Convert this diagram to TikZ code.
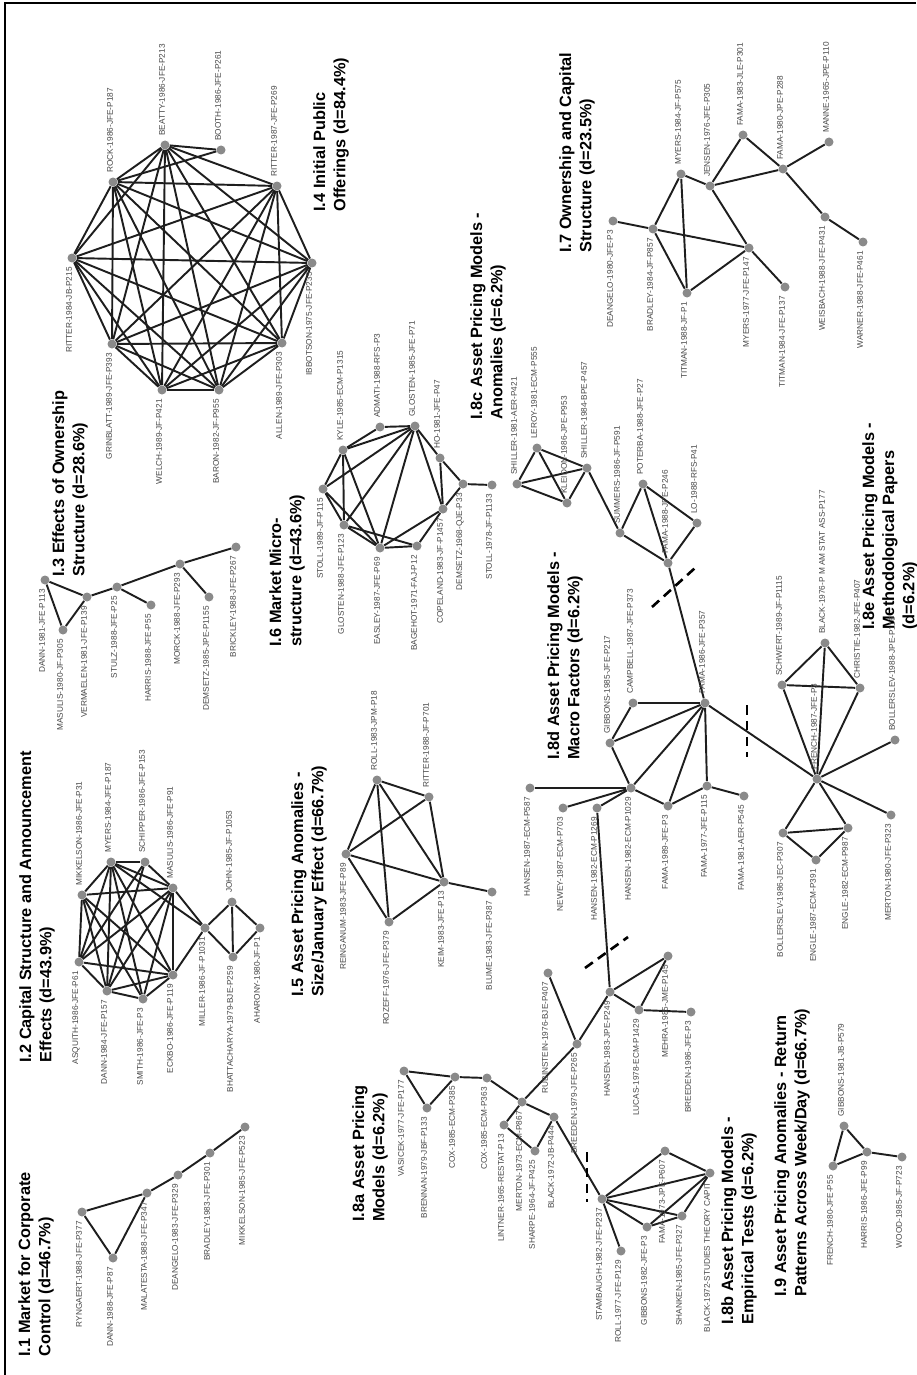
\documentclass[tikz,border=0pt]{standalone}
\usepackage{fontspec}
\setmainfont{Liberation Sans}
\usetikzlibrary{positioning}
\definecolor{dotgrey}{RGB}{138,138,138}
\definecolor{inkgrey}{RGB}{30,30,30}
\definecolor{textgrey}{RGB}{70,70,70}
\pgfdeclarelayer{bg}
\pgfsetlayers{bg,main}
% a paper: grey dot plus its rotated label, above or below the dot
\newcommand{\pubup}[4]{%
  \node[pdot] (#1) at (#2,#3) {};
  \node[plabel,anchor=west] (#1-lbl) at ([xshift=-0.06cm,yshift=0.18cm]#1.center) {#4};}
\newcommand{\pubdn}[4]{%
  \node[pdot] (#1) at (#2,#3) {};
  \node[plabel,anchor=east] (#1-lbl) at ([xshift=-0.06cm,yshift=-0.18cm]#1.center) {#4};}

\begin{document}
\begin{tikzpicture}[x=0.02cm,y=-0.02cm,
  pdot/.style={circle,fill=dotgrey,inner sep=0pt,minimum size=0.18cm},
  plabel/.style={rotate=90,inner sep=0pt,text=textgrey,font=\fontsize{4.7}{5}\selectfont},
  ttl/.style={rotate=90,anchor=west,align=left,inner sep=0pt,font=\bfseries\fontsize{9.3}{11.5}\selectfont},
  edge/.style={inkgrey,line width=1.1pt},
  cut/.style={black,line width=1.5pt,dash pattern=on 5.5pt off 3.5pt}]
\useasboundingbox (0,0) rectangle (916,1375);
% page frame
\draw[black,line width=1.2pt] (5,1375) -- (5,3) -- (916,3);

% cluster titles
\node[ttl] (tI1) at (36,1357) {I.1 Market for Corporate\\Control (d=46.7\%)};
\node[ttl] (tI2) at (37,1063) {I.2 Capital Structure and Announcement\\Effects (d=43.9\%)};
\node[ttl] (tI3) at (70,577) {I.3 Effects of Ownership\\Structure (d=28.6\%)};
\node[ttl] (tI4) at (331,212) {I.4 Initial Public\\Offerings (d=84.4\%)};
\node[ttl] (tI5) at (309,997) {I.5 Asset Pricing Anomalies -\\Size/January Effect (d=66.7\%)};
\node[ttl] (tI6) at (287,647) {I.6 Market Micro-\\structure (d=43.6\%)};
\node[ttl] (tI7) at (577,253) {I.7 Ownership and Capital\\Structure (d=23.5\%)};
\node[ttl] (tI8a) at (370,1222) {I.8a Asset Pricing\\Models (d=6.2\%)};
\node[ttl] (tI8b) at (739,1325) {I.8b Asset Pricing Models -\\Empirical Tests (d=6.2\%)};
\node[ttl] (tI8c) at (488,420) {I.8c Asset Pricing Models -\\Anomalies (d=6.2\%)};
\node[ttl] (tI8d) at (565,760) {I.8d Asset Pricing Models -\\Macro Factors (d=6.2\%)};
\node[ttl] (tI8e) at (890,630) {I.8e Asset Pricing Models -\\Methodological Papers\\(d=6.2\%)};
\node[ttl] (tI9) at (792,1297) {I.9 Asset Pricing Anomalies - Return\\Patterns Across Week/Day (d=66.7\%)};

% I.1 market for corporate control
\pubdn{ryngaert}{82}{1212}{RYNGAERT-1988-JFE-P377}
\pubdn{dannC}{113}{1258}{DANN-1988-JFE-P87}
\pubdn{malatesta}{147}{1193}{MALATESTA-1988-JFE-P347}
\pubdn{deangeloA}{178}{1175}{DEANGELO-1983-JFE-P329}
\pubdn{bradleyA}{210}{1153}{BRADLEY-1983-JFE-P301}
\pubdn{mikkelsonB}{245}{1127}{MIKKELSON-1985-JFE-P523}

% I.2 capital structure
\pubup{mikkelsonA}{82}{895}{MIKKELSON-1986-JFE-P31}
\pubup{myersC}{111}{862}{MYERS-1984-JFE-P187}
\pubup{schipper}{145}{862}{SCHIPPER-1986-JFE-P153}
\pubup{masulisB}{173}{888}{MASULIS-1986-JFE-P91}
\pubup{johnK}{232}{902}{JOHN-1985-JF-P1053}
\pubdn{asquith}{79}{962}{ASQUITH-1986-JFE-P61}
\pubdn{dannB}{107}{991}{DANN-1984-JFE-P157}
\pubdn{smith}{143}{999}{SMITH-1986-JFE-P3}
\pubdn{eckbo}{173}{975}{ECKBO-1986-JFE-P119}
\pubdn{miller}{205}{928}{MILLER-1986-JF-P1031}
\pubdn{bhattacharya}{233}{957}{BHATTACHARYA-1979-BJE-P259}
\pubdn{aharony}{260}{928}{AHARONY-1980-JF-P1}

% I.3 ownership structure
\pubdn{dannA}{45}{580}{DANN-1981-JFE-P113}
\pubdn{masulisA}{63}{630}{MASULIS-1980-JF-P305}
\pubdn{vermaelen}{87}{597}{VERMAELEN-1981-JFE-P139}
\pubdn{stulz}{117}{587}{STULZ-1988-JFE-P25}
\pubdn{harris}{151}{605}{HARRIS-1988-JFE-P55}
\pubdn{morck}{180}{564}{MORCK-1988-JFE-P293}
\pubdn{demsetzA}{209}{597}{DEMSETZ-1985-JPE-P1155}
\pubdn{brickley}{236}{547}{BRICKLEY-1988-JFE-P267}

% I.4 initial public offerings
\pubdn{ritterA}{72}{258}{RITTER-1984-JB-P215}
\pubup{rock}{113}{182}{ROCK-1986-JFE-P187}
\pubup{beatty}{165}{145}{BEATTY-1986-JFE-P213}
\pubup{booth}{221}{150}{BOOTH-1986-JFE-P261}
\pubup{ritterB}{277}{186}{RITTER-1987-JFE-P269}
\pubdn{ibbotson}{312}{263}{IBBOTSON-1975-JFE-P235}
\pubdn{allen}{282}{343}{ALLEN-1989-JFE-P303}
\pubdn{baron}{219}{390}{BARON-1982-JF-P955}
\pubdn{welch}{162}{390}{WELCH-1989-JF-P421}
\pubdn{grinblatt}{112}{344}{GRINBLATT-1989-JFE-P393}

% I.5 size / january effect
\pubup{rollA}{377}{780}{ROLL-1983-JPM-P18}
\pubup{ritterC}{429}{797}{RITTER-1988-JF-P701}
\pubdn{reinganum}{346}{854}{REINGANUM-1983-JFE-P89}
\pubdn{rozeff}{389}{922}{ROZEFF-1976-JFE-P379}
\pubdn{keim}{444}{882}{KEIM-1983-JFE-P13}
\pubdn{blume}{492}{892}{BLUME-1983-JFE-P387}

% I.6 market microstructure
\pubdn{stollA}{323}{489}{STOLL-1989-JF-P115}
\pubup{kyle}{343}{450}{KYLE-1985-ECM-P1315}
\pubup{admati}{380}{427}{ADMATI-1988-RFS-P3}
\pubup{glostenA}{415}{426}{GLOSTEN-1985-JFE-P71}
\pubup{ho}{440}{458}{HO-1981-JFE-P47}
\pubdn{demsetzB}{463}{484}{DEMSETZ-1968-QJE-P33}
\pubdn{copeland}{443}{509}{COPELAND-1983-JF-P1457}
\pubdn{bagehot}{417}{546}{BAGEHOT-1971-FAJ-P12}
\pubdn{easley}{380}{548}{EASLEY-1987-JFE-P69}
\pubdn{glostenB}{344}{525}{GLOSTEN-1988-JFE-P123}
\pubdn{stollB}{492}{485}{STOLL-1978-JF-P1133}

% I.7 ownership and capital structure
\pubdn{deangeloB}{613}{221}{DEANGELO-1980-JFE-P3}
\pubdn{bradleyB}{653}{229}{BRADLEY-1984-JF-P857}
\pubdn{titmanA}{687}{293}{TITMAN-1988-JF-P1}
\pubup{myersA}{681}{174}{MYERS-1984-JF-P575}
\pubup{jensen}{710}{186}{JENSEN-1976-JFE-P305}
\pubup{famaA}{743}{135}{FAMA-1983-JLE-P301}
\pubup{famaB}{783}{169}{FAMA-1980-JPE-P288}
\pubup{manne}{829}{142}{MANNE-1965-JPE-P110}
\pubdn{myersB}{749}{248}{MYERS-1977-JFE-P147}
\pubdn{titmanB}{785}{287}{TITMAN-1984-JFE-P137}
\pubdn{weisbach}{825}{217}{WEISBACH-1988-JFE-P431}
\pubdn{warner}{863}{242}{WARNER-1988-JFE-P461}

% I.8c anomalies
\pubup{shillerA}{517}{484}{SHILLER-1981-AER-P421}
\pubup{leroy}{537}{448}{LEROY-1981-ECM-P555}
\pubup{kleidon}{567}{503}{KLEIDON-1986-JPE-P953}
\pubup{shillerB}{587}{468}{SHILLER-1984-BPE-P457}
\pubup{summers}{620}{533}{SUMMERS-1986-JF-P591}
\pubup{poterba}{643}{484}{POTERBA-1988-JFE-P27}
\pubup{lo}{697}{523}{LO-1988-RFS-P41}
\pubup{famaC}{668}{563}{FAMA-1988-JPE-P246}

% I.8d macro factors
\pubup{famaD}{705}{703}{FAMA-1986-JFE-P357}
\pubup{campbell}{633}{703}{CAMPBELL-1987-JFE-P373}
\pubup{gibbonsA}{610}{743}{GIBBONS-1985-JFE-P217}
\pubdn{hansenA}{631}{788}{HANSEN-1982-ECM-P1029}
\pubdn{famaE}{668}{806}{FAMA-1989-JFE-P3}
\pubdn{famaF}{707}{786}{FAMA-1977-JFE-P115}
\pubdn{famaG}{744}{796}{FAMA-1981-AER-P545}
\pubdn{hansenB}{530}{788}{HANSEN-1987-ECM-P587}
\pubdn{newey}{563}{808}{NEWEY-1987-ECM-P703}
\pubdn{hansenC}{597}{808}{HANSEN-1982-ECM-P1269}

% consumption based models
\pubdn{hansenD}{610}{992}{HANSEN-1983-JPE-P249}
\pubdn{lucas}{639}{1010}{LUCAS-1978-ECM-P1429}
\pubdn{mehra}{668}{956}{MEHRA-1985-JME-P145}
\pubdn{breedenA}{691}{1012}{BREEDEN-1986-JFE-P3}
\pubdn{rubinstein}{548}{973}{RUBINSTEIN-1976-BJE-P407}
\pubdn{breedenB}{577}{1044}{BREEDEN-1979-JFE-P265}

% I.8a asset pricing models
\pubdn{vasicek}{404}{1071}{VASICEK-1977-JFE-P177}
\pubdn{brennan}{427}{1108}{BRENNAN-1979-JBF-P133}
\pubdn{coxA}{455}{1077}{COX-1985-ECM-P385}
\pubdn{coxB}{487}{1078}{COX-1985-ECM-P363}
\pubdn{lintner}{504}{1125}{LINTNER-1965-RESTAT-P13}
\pubdn{merton}{522}{1102}{MERTON-1973-ECM-P867}
\pubdn{sharpe}{535}{1151}{SHARPE-1964-JF-P425}
\pubdn{blackA}{554}{1117}{BLACK-1972-JB-P444}

% I.8b empirical tests
\pubdn{stambaugh}{602}{1199}{STAMBAUGH-1982-JFE-P237}
\pubdn{rollB}{621}{1251}{ROLL-1977-JFE-P129}
\pubdn{gibbonsB}{647}{1227}{GIBBONS-1982-JFE-P3}
\pubdn{famaH}{665}{1151}{FAMA-1973-JPE-P607}
\pubdn{shanken}{682}{1216}{SHANKEN-1985-JFE-P327}
\pubdn{blackB}{710}{1173}{BLACK-1972-STUDIES THEORY CAPIT}

% I.8e methodological papers
\pubup{frenchA}{817}{779}{FRENCH-1987-JFE-P3}
\pubup{schwert}{782}{685}{SCHWERT-1989-JF-P1115}
\pubup{blackC}{825}{643}{BLACK-1976-P M AM STAT ASS-P177}
\pubup{christie}{860}{688}{CHRISTIE-1982-JFE-P407}
\pubup{bollerslevA}{895}{740}{BOLLERSLEV-1988-JPE-P116}
\pubdn{bollerslevB}{783}{833}{BOLLERSLEV-1986-JEC-P307}
\pubdn{engleA}{816}{860}{ENGLE-1987-ECM-P391}
\pubdn{engleB}{848}{828}{ENGLE-1982-ECM-P987}
\pubdn{mertonB}{891}{815}{MERTON-1980-JFE-P323}

% I.9 week / day patterns
\pubup{gibbonsC}{844}{1126}{GIBBONS-1981-JB-P579}
\pubdn{frenchB}{833}{1166}{FRENCH-1980-JFE-P55}
\pubdn{harrisB}{867}{1152}{HARRIS-1986-JFE-P99}
\pubdn{wood}{902}{1157}{WOOD-1985-JF-P723}

% cut marks between the I.8 sub-groups
\coordinate (cutA1) at (652,607); \coordinate (cutA2) at (695,568);
\coordinate (cutB1) at (747,705); \coordinate (cutB2) at (747,757);
\coordinate (cutC1) at (585,968); \coordinate (cutC2) at (628,937);
\coordinate (cutD1) at (587,1152); \coordinate (cutD2) at (587,1202);
\foreach \p in {A,B,C,D}
  \draw[cut] (cut\p1) -- (cut\p2);

% citation links
\begin{pgfonlayer}{bg}
\foreach \a [count=\i] in {ritterA,rock,beatty,ritterB,ibbotson,allen,baron,welch,grinblatt}{
  \foreach \b [count=\j] in {ritterA,rock,beatty,ritterB,ibbotson,allen,baron,welch,grinblatt}{
    \ifnum\i<\j \draw[edge] (\a) -- (\b); \fi
  }
}
\foreach \a/\b in {booth/beatty,booth/rock,
  ryngaert/dannC,ryngaert/malatesta,dannC/malatesta,malatesta/deangeloA,
  deangeloA/bradleyA,bradleyA/mikkelsonB,
  mikkelsonA/myersC,mikkelsonA/masulisB,mikkelsonA/eckbo,mikkelsonA/smith,
  mikkelsonA/dannB,mikkelsonA/asquith,myersC/schipper,myersC/masulisB,
  myersC/eckbo,myersC/smith,myersC/dannB,myersC/asquith,myersC/miller,
  schipper/masulisB,schipper/asquith,schipper/dannB,masulisB/eckbo,
  masulisB/smith,masulisB/dannB,masulisB/asquith,masulisB/miller,
  eckbo/smith,eckbo/dannB,eckbo/asquith,eckbo/miller,smith/dannB,
  dannB/asquith,miller/johnK,miller/bhattacharya,johnK/bhattacharya,
  johnK/aharony,bhattacharya/aharony,
  dannA/masulisA,dannA/vermaelen,masulisA/vermaelen,vermaelen/stulz,
  stulz/harris,stulz/morck,morck/demsetzA,morck/brickley,
  rollA/ritterC,rollA/reinganum,rollA/rozeff,rollA/keim,ritterC/reinganum,
  ritterC/keim,reinganum/rozeff,reinganum/keim,rozeff/keim,keim/blume,
  stollA/kyle,stollA/glostenB,stollA/easley,stollA/glostenA,kyle/admati,
  kyle/glostenA,kyle/easley,kyle/glostenB,admati/glostenA,glostenA/glostenB,
  glostenA/easley,glostenA/ho,glostenA/copeland,glostenB/easley,
  glostenB/bagehot,easley/bagehot,easley/copeland,bagehot/copeland,
  ho/copeland,ho/demsetzB,copeland/demsetzB,demsetzB/stollB,
  deangeloB/bradleyB,bradleyB/myersA,bradleyB/titmanA,bradleyB/myersB,
  myersA/titmanA,myersA/jensen,titmanA/myersB,jensen/myersB,jensen/famaA,
  jensen/famaB,famaA/famaB,famaB/manne,famaB/weisbach,weisbach/warner,
  myersB/titmanB}
  \draw[edge] (\a) -- (\b);
% asset pricing group I.8
\foreach \a/\b in {shillerA/leroy,shillerA/kleidon,shillerA/shillerB,
  leroy/kleidon,leroy/shillerB,kleidon/shillerB,shillerB/summers,
  summers/poterba,summers/famaC,poterba/famaC,poterba/lo,lo/famaC,famaC/famaD,
  famaD/campbell,famaD/gibbonsA,campbell/gibbonsA,gibbonsA/hansenA,
  hansenA/famaD,hansenA/famaE,famaE/famaD,famaE/famaF,famaF/famaD,
  famaF/famaG,hansenA/hansenB,hansenA/newey,hansenA/hansenC,hansenC/hansenD,
  famaD/frenchA,
  hansenD/mehra,hansenD/lucas,lucas/mehra,lucas/breedenA,hansenD/breedenB,
  breedenB/rubinstein,breedenB/merton,
  vasicek/brennan,vasicek/coxA,brennan/coxA,coxA/coxB,coxB/merton,
  merton/lintner,lintner/sharpe,sharpe/blackA,merton/blackA,blackA/stambaugh,
  stambaugh/rollB,stambaugh/gibbonsB,stambaugh/famaH,stambaugh/shanken,
  stambaugh/blackB,famaH/blackB,gibbonsB/shanken,shanken/blackB,gibbonsB/blackB,
  frenchA/schwert,frenchA/blackC,frenchA/christie,schwert/blackC,
  schwert/christie,blackC/christie,frenchA/bollerslevA,frenchA/mertonB,
  frenchA/bollerslevB,frenchA/engleB,bollerslevB/engleA,bollerslevB/engleB,
  engleA/engleB,
  gibbonsC/frenchB,gibbonsC/harrisB,frenchB/harrisB,harrisB/wood}
  \draw[edge] (\a) -- (\b);
\end{pgfonlayer}
\end{tikzpicture}
\end{document}
